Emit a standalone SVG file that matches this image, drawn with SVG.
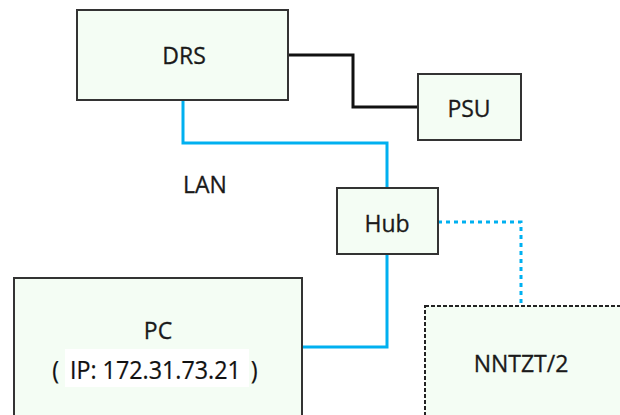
<svg xmlns="http://www.w3.org/2000/svg" width="620" height="415" viewBox="0 0 620 415">
<style>
.box{fill:#f4fdf4;stroke:#333;stroke-width:2}
.dash{fill:#f4fdf4;stroke:#222;stroke-width:2;stroke-dasharray:4 2}
.t{font-family:"Open Sans","Noto Sans",sans-serif;font-size:23px;fill:#1a1a1a;stroke:#1a1a1a;stroke-width:0.3;text-anchor:middle}
.ip{font-family:"Open Sans","Noto Sans",sans-serif;font-size:21px;fill:#111;stroke:#111;stroke-width:0.2}
.blue{fill:none;stroke:#00b0f0;stroke-width:3}
.blk{fill:none;stroke:#111;stroke-width:3}
.dot{fill:none;stroke:#00b0f0;stroke-width:3;stroke-dasharray:4 4}
</style>
<rect width="620" height="415" fill="#fff"/>
<g id="connectors">
<path class="blk" d="M288,55 H353 V107 H418"/>
<path class="blue" d="M183,100 V143 H387 V188"/>
<path class="blue" d="M387,254 V347 H302"/>
<path class="dot" d="M438,222 H521 V306"/>
</g>
<g id="drs"><rect class="box" x="77" y="10" width="211" height="90"/><text class="t" x="184" y="64">DRS</text></g>
<g id="psu"><rect class="box" x="418" y="74" width="103" height="66"/><text class="t" x="469" y="117">PSU</text></g>
<g id="hub"><rect class="box" x="337" y="188" width="101" height="66"/><text class="t" x="387" y="232">Hub</text></g>
<g id="pc"><rect class="box" x="14" y="278" width="288" height="150"/><text class="t" x="158" y="339">PC</text>
<rect x="65" y="349" width="184" height="38" fill="#fff"/>
<g transform="translate(0,379) scale(1.11,1.18)"><text class="ip" y="0"><tspan x="47">(</tspan><tspan x="63">IP: 172.31.73.21</tspan><tspan x="226">)</tspan></text></g></g>
<g id="nntzt"><rect class="dash" x="425" y="306" width="210" height="130"/><text class="t" x="521" y="372">NNTZT/2</text></g>
<text class="t" x="205" y="193">LAN</text>
</svg>
